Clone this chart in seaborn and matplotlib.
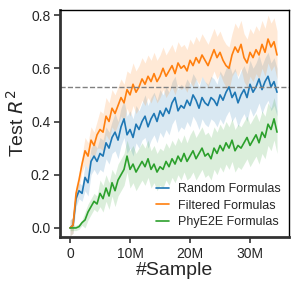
import numpy as np
import pandas as pd
import seaborn as sns
import matplotlib
matplotlib.use('Agg')
import matplotlib.pyplot as plt

# samples seen, in millions (step 0.5M)
samples = np.arange(70) * 0.5

random_mean = [0.0, 0.01, 0.11, 0.14, 0.13, 0.19, 0.17, 0.25, 0.27, 0.25,
               0.28, 0.27, 0.32, 0.30, 0.34, 0.36, 0.33, 0.38, 0.41, 0.35,
               0.37, 0.34, 0.39, 0.37, 0.40, 0.42, 0.38, 0.41, 0.43, 0.40,
               0.44, 0.42, 0.45, 0.43, 0.47, 0.49, 0.44, 0.46, 0.45, 0.48,
               0.46, 0.50, 0.48, 0.45, 0.49, 0.47, 0.46, 0.49, 0.48, 0.46,
               0.50, 0.48, 0.51, 0.53, 0.49, 0.51, 0.47, 0.50, 0.52, 0.49,
               0.54, 0.51, 0.53, 0.56, 0.52, 0.55, 0.57, 0.53, 0.55, 0.51]
filtered_mean = [0.0, 0.01, 0.13, 0.18, 0.24, 0.29, 0.27, 0.33, 0.31, 0.35,
                 0.37, 0.36, 0.42, 0.40, 0.45, 0.43, 0.46, 0.49, 0.47, 0.52,
                 0.50, 0.54, 0.51, 0.53, 0.56, 0.54, 0.57, 0.55, 0.58, 0.55,
                 0.57, 0.60, 0.57, 0.59, 0.61, 0.58, 0.62, 0.60, 0.61, 0.59,
                 0.63, 0.61, 0.64, 0.62, 0.65, 0.63, 0.61, 0.64, 0.67, 0.64,
                 0.66, 0.63, 0.61, 0.60, 0.65, 0.68, 0.66, 0.69, 0.64, 0.62,
                 0.66, 0.64, 0.67, 0.65, 0.69, 0.66, 0.71, 0.68, 0.70, 0.65]
phye2e_mean = [0.0, 0.0, 0.0, 0.005, 0.02, 0.03, 0.06, 0.08, 0.10, 0.09,
               0.13, 0.11, 0.15, 0.12, 0.17, 0.14, 0.18, 0.20, 0.22, 0.27,
               0.22, 0.24, 0.21, 0.23, 0.25, 0.23, 0.26, 0.22, 0.24, 0.21,
               0.23, 0.22, 0.25, 0.23, 0.26, 0.24, 0.27, 0.25, 0.28, 0.25,
               0.27, 0.29, 0.26, 0.28, 0.30, 0.27, 0.28, 0.26, 0.30, 0.28,
               0.31, 0.29, 0.32, 0.30, 0.33, 0.29, 0.31, 0.30, 0.32, 0.34,
               0.31, 0.33, 0.35, 0.32, 0.36, 0.34, 0.39, 0.37, 0.41, 0.36]

# band half-widths, one value per 2.5M block
random_spread = [0.03, 0.05, 0.06, 0.07, 0.07, 0.08, 0.08, 0.08, 0.08, 0.08, 0.09, 0.09, 0.09, 0.09]
filtered_spread = [0.03, 0.05, 0.07, 0.07, 0.08, 0.08, 0.08, 0.08, 0.08, 0.08, 0.08, 0.09, 0.09, 0.09]
phye2e_spread = [0.01, 0.03, 0.05, 0.06, 0.07, 0.07, 0.07, 0.07, 0.08, 0.08, 0.08, 0.08, 0.08, 0.08]

names = ['Random Formulas', 'Filtered Formulas', 'PhyE2E Formulas']
means = [random_mean, filtered_mean, phye2e_mean]
spreads = [random_spread, filtered_spread, phye2e_spread]
colors = ['#1f77b4', '#ff7f0e', '#2ca02c']
baseline = 0.53

df = pd.concat([pd.DataFrame({'samples': samples, 'r2': m, 'model': n})
                for n, m in zip(names, means)], ignore_index=True)

sns.set_style('ticks')
plt.rcParams['font.family'] = ['Liberation Sans', 'DejaVu Sans']

fig = plt.figure(figsize=(2.99, 2.91), dpi=100)
ax = fig.add_axes([0.2007, 0.1856, 0.7659, 0.78])

for m, s, c in zip(means, spreads, colors):
    half = np.repeat(s, 5)
    ax.fill_between(samples, np.array(m) - half, np.array(m) + half,
                    color=c, alpha=0.17, linewidth=0)

sns.lineplot(data=df, x='samples', y='r2', hue='model', palette=colors,
             linewidth=1.2, ax=ax)
ax.axhline(baseline, color='gray', linestyle='--', linewidth=1.0)

ax.set_xlim(-1.67, 36.5)
ax.set_ylim(-0.034, 0.819)
ax.set_xticks([0, 10, 20, 30])
ax.set_xticklabels(['0', '10M', '20M', '30M'])
ax.set_yticks([0.0, 0.2, 0.4, 0.6, 0.8])
ax.set_yticklabels(['0.0', '0.2', '0.4', '0.6', '0.8'])
ax.tick_params(labelsize=10, length=4, width=1.2, color='#333333', pad=3)
ax.set_xlabel('#Sample', fontsize=14, labelpad=1)
ax.set_ylabel('Test $R^2$', fontsize=14, labelpad=2)

for side in ['left', 'bottom']:
    ax.spines[side].set_linewidth(2.0)
    ax.spines[side].set_color('#333333')
for side in ['top', 'right']:
    ax.spines[side].set_visible(True)
    ax.spines[side].set_linewidth(1.0)
    ax.spines[side].set_color('black')

ax.legend(loc='lower right', frameon=False, fontsize=9, handlelength=1.0,
          handletextpad=0.7, labelspacing=0.35, borderaxespad=0.3)

fig.savefig('out.png', dpi=100)
